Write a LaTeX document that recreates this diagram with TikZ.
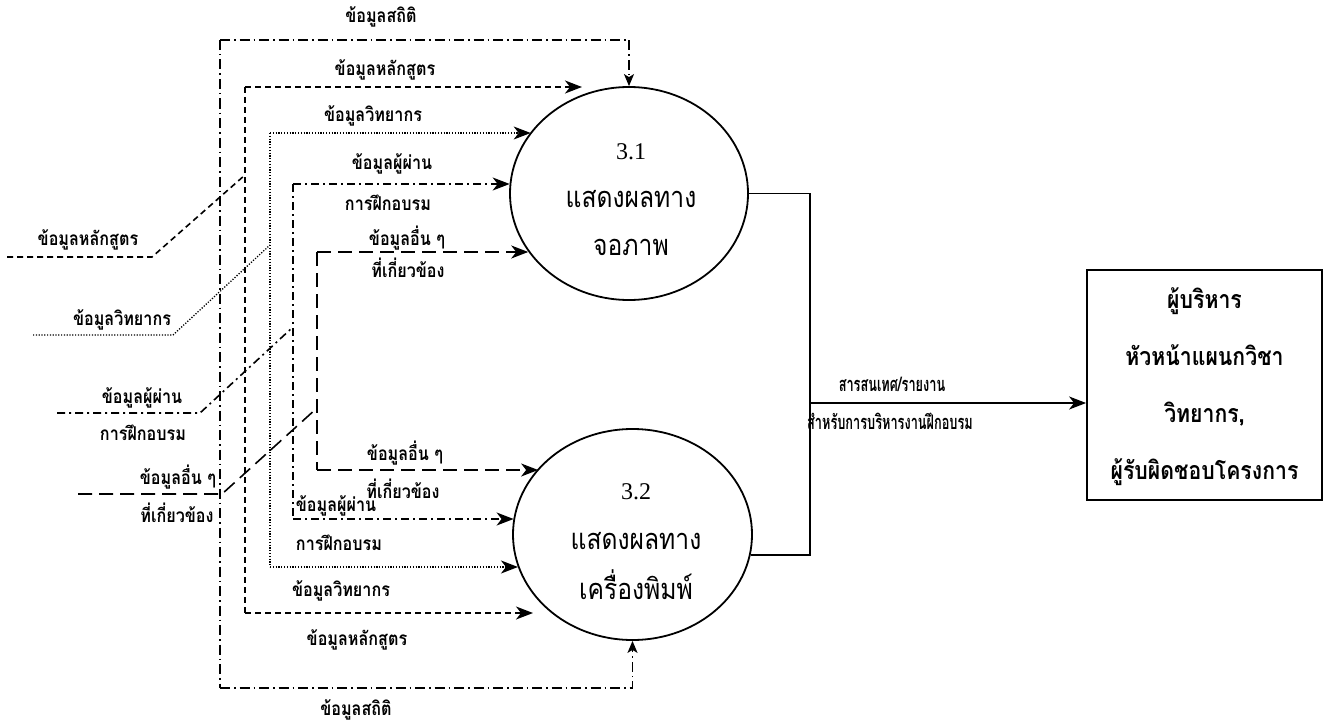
\documentclass[tikz,border=0pt]{standalone}
\usepackage{fontspec}
\setmainfont{Liberation Serif}
\newfontfamily\thai[Script=Thai,FakeStretch=0.85]{Loma}
\usetikzlibrary{arrows.meta,shapes.geometric}
\begin{document}
\begin{tikzpicture}[x=1pt,y=-1pt,
  flow/.style={line width=1.4pt},
  flowtip/.style={-{Stealth[length=17pt,width=13pt,inset=5pt]}},
  smallflowtip/.style={-{Stealth[length=12pt,width=10pt,inset=3pt]}},
  statline/.style={flow,dash pattern=on 10pt off 4pt on 1.5pt off 4pt},
  cursline/.style={flow,line width=1.6pt,dash pattern=on 6pt off 4pt},
  lectline/.style={flow,line width=1.3pt,dash pattern=on 1.2pt off 1.6pt},
  gradline/.style={flow,line width=1.6pt,dash pattern=on 8pt off 4pt on 2pt off 4pt},
  otherline/.style={flow,line width=1.6pt,dash pattern=on 14pt off 7pt},
  lbl/.style={font=\thai\bfseries\fontsize{19}{19}\selectfont, inner sep=0pt},
  outlbl/.style={font=\thai\bfseries\fontsize{20}{20}\selectfont, inner sep=0pt, xscale=0.75},
  proc/.style={ellipse, draw, line width=1.8pt, minimum width=238pt, minimum height=213pt, inner sep=0pt},
  ptext/.style={align=center, inner sep=0pt, font=\thai\fontsize{29}{48}\selectfont},
  entity/.style={draw, line width=1.8pt, minimum width=235pt, minimum height=230pt, inner sep=0pt},
  etext/.style={align=center, inner sep=0pt, font=\thai\bfseries\fontsize{25}{57}\selectfont}
]
\useasboundingbox (0,0) rectangle (1334,725);

% processes
\node[proc] (e1) at (629,193.5) {};
\node[proc, minimum width=239pt, minimum height=211pt] (e2) at (632.5,534.5) {};
\node[ptext] (e1txt) at (631,200) {{\rmfamily\fontsize{24}{48}\selectfont 3.1}\\แสดงผลทาง\\จอภาพ};
\node[ptext, font=\thai\fontsize{29}{50}\selectfont] (e2txt) at (636,542) {{\rmfamily\fontsize{24}{50}\selectfont 3.2}\\แสดงผลทาง\\เครื่องพิมพ์};

% external entity
\node[entity] (mgr) at (1204.5,385) {};
\node[etext] (mgrtxt) at (1204.5,387) {ผู้บริหาร\\หัวหน้าแผนกวิชา\\วิทยากร,\\ผู้รับผิดชอบโครงการ};

% output flow
\coordinate (j) at (810,403);
\draw[line width=1.8pt] (e1.east) -| (j);
\draw[line width=1.8pt] (e2.350.3) -| (j);
\draw[line width=1.8pt,flowtip] (j) -- (j -| mgr.west);
\node[outlbl] (outA) at (892,384) {สารสนเทศ/รายงาน};
\node[outlbl] (outB) at (890,421) {สำหรับการบริหารงานฝึกอบรม};

% statistics loop
\coordinate (sT) at (220,40);
\coordinate (sB) at (220,688);
\draw[statline] (sT) -- (sB);
\draw[statline,smallflowtip] (sT) -| (e1.north);
\draw[statline,smallflowtip] (sB) -| (e2.south);
\node[lbl] (sTl) at (381,17) {ข้อมูลสถิติ};
\node[lbl] (sBl) at (356,710) {ข้อมูลสถิติ};

% curriculum
\coordinate (hT) at (245,87);
\coordinate (hB) at (245,613);
\coordinate (hTe) at (582,87);
\coordinate (hBe) at (533,613);
\coordinate (hJ) at (245,175);
\coordinate (hL0) at (7,257);
\coordinate (hL1) at (152,257);
\draw[cursline] (hL0) -- (hL1) -- (hJ);
\draw[cursline] (hT) -- (hB);
\draw[cursline,flowtip] (hT) -- (hTe);
\draw[cursline,flowtip] (hB) -- (hBe);
\node[lbl] (hInl) at (88,240) {ข้อมูลหลักสูตร};
\node[lbl] (hTl) at (385,70) {ข้อมูลหลักสูตร};
\node[lbl] (hBl) at (357,640) {ข้อมูลหลักสูตร};

% lecturers
\coordinate (wT) at (270,133);
\coordinate (wB) at (270,567);
\coordinate (wJ) at (270,245);
\coordinate (wL0) at (33,335);
\coordinate (wL1) at (173,335);
\draw[lectline] (wL0) -- (wL1) -- (wJ);
\draw[lectline] (wT) -- (wB);
\draw[lectline,flowtip] (wT) -- (wT -| e1.148.3);
\draw[lectline,flowtip] (wB) -- (wB -| e2.196);
\node[lbl] (wInl) at (122,320) {ข้อมูลวิทยากร};
\node[lbl] (wTl) at (373,116) {ข้อมูลวิทยากร};
\node[lbl] (wBl) at (341,591) {ข้อมูลวิทยากร};

% trainees
\coordinate (gT) at (293,184);
\coordinate (gB) at (293,519);
\coordinate (gJ) at (293,327);
\coordinate (gL0) at (57,413);
\coordinate (gL1) at (200,413);
\draw[gradline] (gL0) -- (gL1) -- (gJ);
\draw[gradline] (gT) -- (gB);
\draw[gradline,flowtip] (gT) -- (gT -| e1.175.4);
\draw[gradline,flowtip] (gB) -- (gB -| e2.172.5);
\node[lbl] (gInA) at (142,398) {ข้อมูลผู้ผ่าน};
\node[lbl] (gInB) at (143,433) {การฝึกอบรม};
\node[lbl] (gTA) at (392,164) {ข้อมูลผู้ผ่าน};
\node[lbl] (gTB) at (388,203) {การฝึกอบรม};
\node[lbl] (gBA) at (336,506) {ข้อมูลผู้ผ่าน};
\node[lbl] (gBB) at (339,543) {การฝึกอบรม};

% other related data
\coordinate (oT) at (317,252);
\coordinate (oB) at (317,470);
\coordinate (oJ) at (317,408);
\coordinate (oL0) at (78,494);
\coordinate (oL1) at (222,494);
\draw[otherline] (oL0) -- (oL1) -- (oJ);
\draw[otherline] (oT) -- (oB);
\draw[otherline,flowtip] (oT) -- (oT -| e1.210.5);
\draw[otherline,flowtip] (oB) -- (oB -| e2.145.7);
\node[lbl] (oInA) at (178,477) {ข้อมูลอื่น ๆ};
\node[lbl] (oInB) at (177,513) {ที่เกี่ยวข้อง};
\node[lbl] (oTA) at (407,238) {ข้อมูลอื่น ๆ};
\node[lbl] (oTB) at (408,268) {ที่เกี่ยวข้อง};
\node[lbl] (oBA) at (405,453) {ข้อมูลอื่น ๆ};
\node[lbl] (oBB) at (403,489) {ที่เกี่ยวข้อง};
\end{tikzpicture}
\end{document}
